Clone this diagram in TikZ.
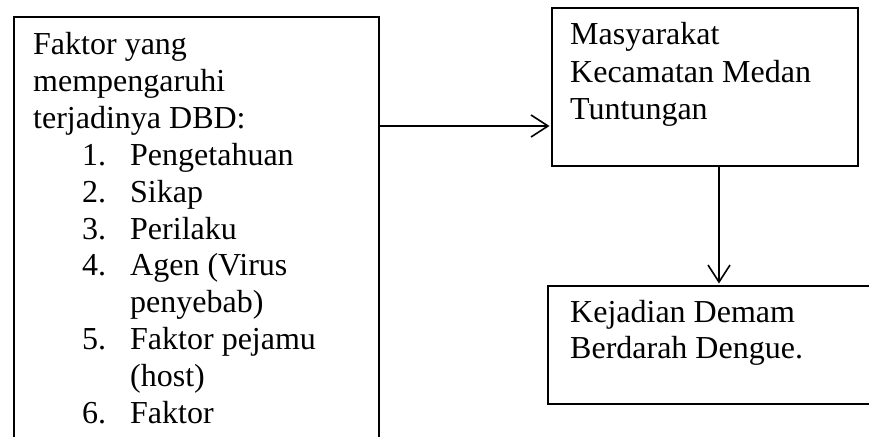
\documentclass[tikz,border=0pt]{standalone}
\usepackage{fontspec}
\setmainfont{Liberation Serif}
\usetikzlibrary{arrows.meta}
\begin{document}
\begin{tikzpicture}[x=1pt,y=-1pt,
  boxline/.style={draw=black,line width=1.8pt,inner sep=0pt,anchor=north west},
  txt/.style={anchor=base west,inner sep=0pt,font=\fontsize{32}{36.8}\selectfont},
  conn/.style={line width=2pt,shorten >=1.5pt,-{Straight Barb[length=17pt,width=22pt,line width=1.6pt]}}]
\useasboundingbox (0,0) rectangle (869,436);
\clip (0,0) rectangle (869,436);
\fill[white] (0,0) rectangle (869,436);
% boxes
\node[boxline,minimum width=365pt,minimum height=444pt] (left) at (13,16) {};
\node[boxline,minimum width=306pt,minimum height=158pt] (top) at (551,7) {};
\node[boxline,minimum width=360pt,minimum height=118pt] (bot) at (547,285) {};
% left box text
\node[txt] (l1) at (33,55) {Faktor yang};
\node[txt] (l2) at (33,91.8) {mempengaruhi};
\node[txt] (l3) at (33,128.6) {terjadinya DBD:};
\node[txt] (n1) at (82,165.4) {1.};
\node[txt] (i1) at (130,165.4) {Pengetahuan};
\node[txt] (n2) at (82,202.2) {2.};
\node[txt] (i2) at (130,202.2) {Sikap};
\node[txt] (n3) at (82,239) {3.};
\node[txt] (i3) at (130,239) {Perilaku};
\node[txt] (n4) at (82,275.8) {4.};
\node[txt] (i4) at (130,275.8) {Agen (Virus};
\node[txt] (i4b) at (130,312.6) {penyebab)};
\node[txt] (n5) at (82,349.4) {5.};
\node[txt] (i5) at (130,349.4) {Faktor pejamu};
\node[txt] (i5b) at (130,386.2) {(host)};
\node[txt] (n6) at (82,423) {6.};
\node[txt] (i6) at (130,423) {Faktor};
% top box text
\node[txt] (t1) at (570,45) {Masyarakat};
\node[txt] (t2) at (570,82) {Kecamatan Medan};
\node[txt] (t3) at (570,119) {Tuntungan};
% bottom box text
\node[txt] (b1) at (570,322) {Kejadian Demam};
\node[txt] (b2) at (570,358) {Berdarah Dengue.};
% connectors
\coordinate (ha) at (0,126);
\coordinate (va) at (719,0);
\draw[conn] (left.east |- ha) -- (top.west |- ha);
\draw[conn] (top.south -| va) -- (bot.north -| va);
\end{tikzpicture}
\end{document}
